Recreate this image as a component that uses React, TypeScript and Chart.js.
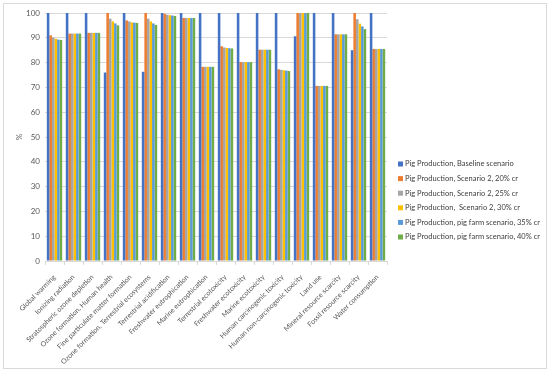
import React, { useEffect, useRef } from "react";
import { Chart, registerables } from "chart.js";

Chart.register(...registerables);

const categories = [
  "Global warming",
  "Ionizing radiation",
  "Stratospheric ozone depletion",
  "Ozone formation, Human health",
  "Fine particulate matter formation",
  "Ozone formation, Terrestrial ecosystems",
  "Terrestrial acidification",
  "Freshwater eutrophication",
  "Marine eutrophication",
  "Terrestrial ecotoxicity",
  "Freshwater ecotoxicity",
  "Marine ecotoxicity",
  "Human carcinogenic toxicity",
  "Human non-carcinogenic toxicity",
  "Land use",
  "Mineral resource scarcity",
  "Fossil resource scarcity",
  "Water consumption",
];

const seriesNames = [
  "Pig Production, Baseline scenario",
  "Pig Production, Scenario 2, 20% cr",
  "Pig Production, Scenario 2, 25% cr",
  "Pig Production,  Scenario 2, 30% cr",
  "Pig Production, pig farm scenario, 35% cr",
  "Pig Production, pig farm scenario, 40% cr",
];

const baseline = [100, 100, 100, 76, 100, 76.3, 100, 100, 100, 100, 100, 100, 100, 90.6, 100, 100, 85, 100];
const sc20 = [91, 91.7, 92, 100, 97, 100, 99.7, 98, 78.3, 86.6, 80.2, 85.2, 77.3, 100, 70.6, 91.4, 100, 85.5];
const sc25 = [90.1, 91.7, 92, 97.7, 96.6, 97.7, 99.3, 98, 78.3, 86.1, 80.2, 85.2, 77.1, 100, 70.6, 91.4, 97.5, 85.5];
const sc30 = [89.6, 91.7, 92, 96.6, 96.2, 96.6, 99.1, 98, 78.3, 85.9, 80.2, 85.2, 76.9, 100, 70.6, 91.4, 95.7, 85.5];
const sc35 = [89.3, 91.7, 92, 95.8, 96.1, 95.8, 99, 98, 78.3, 85.8, 80.2, 85.2, 76.8, 100, 70.6, 91.4, 94.6, 85.5];
const sc40 = [89.1, 91.7, 92, 95, 96, 95.2, 98.8, 98, 78.3, 85.7, 80.2, 85.2, 76.6, 100, 70.6, 91.4, 93.5, 85.5];

const seriesValues = [baseline, sc20, sc25, sc30, sc35, sc40];
const seriesColors = ["#4472C4", "#ED7D31", "#A5A5A5", "#FFC000", "#5B9BD5", "#70AD47"];

const FONT = "Lato, 'Open Sans', sans-serif";

const legendPlugin = {
  id: "sideLegend",
  afterDraw(chart: any) {
    const ctx = chart.ctx;
    const area = chart.chartArea;
    ctx.save();
    ctx.font = `7.5px ${FONT}`;
    ctx.textBaseline = "middle";
    ctx.textAlign = "left";
    chart.data.datasets.forEach((ds: any, i: number) => {
      const y = 164 + i * 14.6;
      const x = area.right + 11;
      ctx.fillStyle = ds.backgroundColor;
      ctx.fillRect(x, y - 2.5, 5, 5);
      ctx.fillStyle = "#404040";
      ctx.fillText(ds.label, x + 7, y);
    });
    ctx.restore();
  },
};

export default function App() {
  const ref = useRef<HTMLCanvasElement | null>(null);
  useEffect(() => {
    if (!ref.current) return;
    const chart = new Chart(ref.current, {
      type: "bar",
      data: {
        labels: categories,
        datasets: seriesNames.map((name, i) => ({
          label: name,
          data: seriesValues[i],
          backgroundColor: seriesColors[i],
          borderWidth: 0,
          categoryPercentage: 0.81,
          barPercentage: 1,
        })),
      },
      options: {
        animation: false,
        responsive: false,
        maintainAspectRatio: false,
        layout: { padding: { left: 0, right: 163, top: 13, bottom: 0 } },
        plugins: {
          legend: { display: false },
          tooltip: { enabled: false },
        },
        scales: {
          x: {
            grid: {
              display: true,
              drawOnChartArea: false,
              drawTicks: true,
              tickLength: 4,
              color: "#d9d9d9",
              offset: true,
            },
            border: { display: true, color: "#d9d9d9" },
            ticks: {
              autoSkip: false,
              minRotation: 45,
              maxRotation: 45,
              padding: 8,
              color: "#595959",
              font: { family: FONT, size: 7 },
            },
            afterFit: (scale: any) => {
              scale.height = 112;
            },
          },
          y: {
            min: 0,
            max: 100,
            ticks: {
              stepSize: 10,
              padding: 5,
              color: "#595959",
              font: { family: FONT, size: 8 },
            },
            grid: { color: "#d9d9d9", drawTicks: false },
            border: { display: false },
            title: {
              display: true,
              text: "%",
              color: "#595959",
              font: { family: FONT, size: 8 },
              padding: { top: 15, bottom: 0 },
            },
            afterFit: (scale: any) => {
              scale.width = 45;
            },
          },
        },
      },
      plugins: [legendPlugin],
    });
    return () => chart.destroy();
  }, []);

  return (
    <div style={{ position: "absolute", left: 0, top: 0, width: 550, height: 373, background: "#fff" }}>
      <canvas ref={ref} width={550} height={373} style={{ position: "absolute", left: 0, top: 0 }} />
      <div
        style={{
          position: "absolute",
          left: 3,
          top: 3,
          width: 542,
          height: 364,
          border: "1px solid #d9d9d9",
          pointerEvents: "none",
        }}
      />
    </div>
  );
}
